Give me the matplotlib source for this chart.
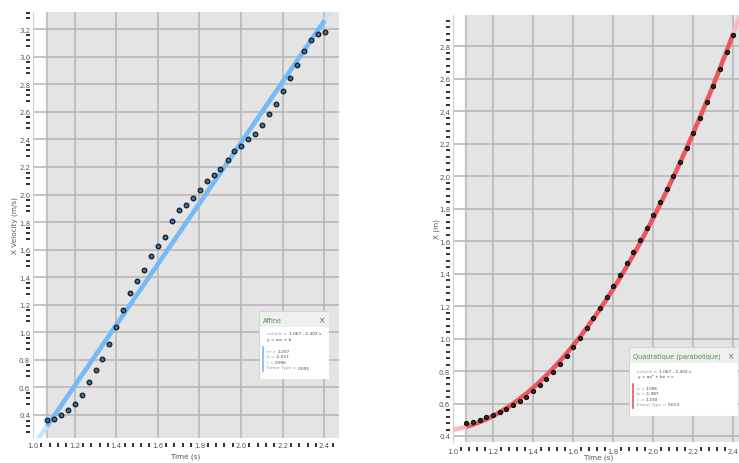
import numpy as np
import matplotlib
matplotlib.use("Agg")
import matplotlib.pyplot as plt
from matplotlib.ticker import MultipleLocator
from matplotlib.patches import Rectangle
from matplotlib.transforms import ScaledTranslation

plt.rcParams['font.family'] = ['DejaVu Sans']

# temps des images (s)
temps = [1.067, 1.100, 1.134, 1.167, 1.200, 1.234, 1.267, 1.301, 1.334, 1.367,
         1.401, 1.434, 1.467, 1.501, 1.534, 1.568, 1.601, 1.634, 1.668, 1.701,
         1.734, 1.768, 1.801, 1.835, 1.868, 1.901, 1.935, 1.968, 2.001, 2.035,
         2.068, 2.102, 2.135, 2.168, 2.202, 2.235, 2.268, 2.302, 2.335, 2.369,
         2.402]

# vitesse selon x (m/s)
vitesse = [0.366, 0.373, 0.400, 0.434, 0.478, 0.543, 0.637, 0.726, 0.808, 0.917,
           1.038, 1.163, 1.286, 1.373, 1.451, 1.557, 1.627, 1.695, 1.811, 1.891,
           1.924, 1.978, 2.033, 2.096, 2.139, 2.185, 2.253, 2.313, 2.352, 2.400,
           2.443, 2.504, 2.586, 2.659, 2.750, 2.847, 2.943, 3.045, 3.125, 3.163,
           3.180]

# position selon x (m)
position = [0.478, 0.488, 0.500, 0.515, 0.531, 0.548, 0.564, 0.591, 0.614, 0.642,
            0.675, 0.712, 0.751, 0.796, 0.844, 0.893, 0.950, 1.004, 1.064, 1.125,
            1.189, 1.255, 1.322, 1.392, 1.464, 1.534, 1.610, 1.683, 1.764, 1.844,
            1.924, 2.004, 2.090, 2.175, 2.267, 2.359, 2.456, 2.555, 2.659, 2.764,
            2.872]

# coefficients des modèles
affine = {'m': 2.207, 'b': -2.037, 'r': 0.996, 'err': 0.093}
quad = {'a': 1.096, 'b': -1.987, 'c': 1.330, 'err': 0.013}

W, H = 739, 464
fig = plt.figure(figsize=(W / 100, H / 100), dpi=100)


def px_axes(x0, y0, x1, y1):
    # axes placé en pixels (origine en haut à gauche)
    return fig.add_axes([x0 / W, 1 - y1 / H, (x1 - x0) / W, (y1 - y0) / H])


GRID = '#b4b4b4'
TXT = '#555555'


def on_major(v):
    return abs(v / 0.2 - round(v / 0.2)) < 1e-6


def minor_marks(ax, xlim, ylim, skip_above_label):
    # petits traits entre les graduations, dans la colonne des étiquettes
    step = 0.04
    xs = np.arange(np.ceil(xlim[0] / step) * step, xlim[1], step)
    ys = np.arange(np.ceil(ylim[0] / step) * step, ylim[1], step)
    xs = [v for v in xs if not on_major(v)]
    ys = [v for v in ys if not on_major(v)
          and not (skip_above_label and on_major(v - step))]
    ty = ax.get_yaxis_transform() + ScaledTranslation(-0.055, 0, fig.dpi_scale_trans)
    tx = ax.get_xaxis_transform() + ScaledTranslation(0, -0.065, fig.dpi_scale_trans)
    ax.plot(np.zeros(len(ys)), ys, ls='none', marker='_', ms=3.2, mew=1.3,
            color='#222222', transform=ty, clip_on=False)
    ax.plot(xs, np.zeros(len(xs)), ls='none', marker='|', ms=3.2, mew=1.3,
            color='#222222', transform=tx, clip_on=False)


def style_axes(ax, xlim, ylim, xlabel, ylabel, xlab_pos, ylab_pos, xpad, skip):
    ax.set_xlim(*xlim)
    ax.set_ylim(*ylim)
    ax.set_facecolor('white')
    # zone des données en gris
    ax.axvspan(temps[0], xlim[1], color='#e4e4e4', zorder=0, lw=0)
    ax.axvline(temps[0], color='#c4c4c4', lw=1.6, zorder=1)
    ax.xaxis.set_major_locator(MultipleLocator(0.2))
    ax.yaxis.set_major_locator(MultipleLocator(0.2))
    ax.grid(True, which='major', color=GRID, lw=1.1, zorder=1)
    ax.tick_params(which='major', length=0, labelsize=5, labelcolor=TXT)
    ax.tick_params(axis='x', which='major', pad=xpad)
    ax.tick_params(axis='y', which='major', pad=2)
    ax.xaxis.set_major_formatter(lambda v, p: f'{v:.1f}')
    ax.yaxis.set_major_formatter(lambda v, p: f'{v:.1f}')
    for s in ['top', 'right', 'bottom']:
        ax.spines[s].set_visible(False)
    ax.spines['left'].set_color('#cfcfcf')
    ax.set_xlabel(xlabel, fontsize=5.2, color=TXT)
    ax.set_ylabel(ylabel, fontsize=5.2, color=TXT)
    ax.xaxis.set_label_coords(*xlab_pos)
    ax.yaxis.set_label_coords(*ylab_pos)
    minor_marks(ax, xlim, ylim, skip)


def fit_line(ax, f, xlim, color, light):
    t = np.asarray(temps)
    x_in = np.linspace(t[0], t[-1], 300)
    x_lo = np.linspace(xlim[0], t[0], 30)
    x_hi = np.linspace(t[-1], xlim[1] + 0.1, 30)
    for xs, c in [(x_lo, light), (x_hi, light), (x_in, color)]:
        ax.plot(xs, f(xs), color=c, lw=3.3, solid_capstyle='butt', zorder=3)


def info_box(x0, y0, w, h, title, bar_color, lines):
    box = px_axes(x0, y0, x0 + w, y0 + h)
    box.set_xlim(0, w)
    box.set_ylim(h, 0)
    box.axis('off')
    box.add_patch(Rectangle((0, 0), w, h, facecolor='white', edgecolor='#d4d4d4', lw=0.8))
    box.add_patch(Rectangle((0.5, 0.5), w - 1, 15, facecolor='#efefef', lw=0))
    box.text(4, 9, title, color='#3f9a3a', fontsize=4.7, va='center')
    box.text(w - 7, 9, '×', color='#666666', fontsize=5.5, va='center', ha='center')
    for y, label, value in lines:
        t = box.text(8, y, label, color='#9a9a9a', fontsize=3.1, va='center')
        if value:
            box.annotate(value, xy=(1, 0.5), xycoords=t, va='center',
                         color='#444444', fontsize=3.1)
    return box


# --- vitesse en fonction du temps, modèle affine ---
xl1, yl1 = (1.0, 2.471), (0.233, 3.325)
ax1 = px_axes(33, 13, 339, 439)
style_axes(ax1, xl1, yl1, 'Time (s)', 'X Velocity (m/s)',
           (0.5, -0.035), (-0.05, 0.5), 3, True)
fit_line(ax1, lambda x: affine['m'] * x + affine['b'], xl1, '#76b9f5', '#c8e4fb')
ax1.scatter(temps, vitesse, s=11, c='#3474ad', edgecolors='#1a1a1a', lw=0.9, zorder=4)

b1 = info_box(259, 312, 70, 68, 'Affine', '#76b9f5', [
    (22, 'échelle x: ', '1.067 - 2.402 s'),
    (40, 'm = ', f"{affine['m']:.3f}"),
    (45.5, 'b = ', f"{affine['b']:.3f}"),
    (51, 'r = ', f"{affine['r']:.3f}"),
    (56.5, 'Erreur Type = ', f"{affine['err']:.3f}"),
])
b1.text(8, 28, 'y = mx + b', color='#444444', fontsize=3.1, va='center')
b1.plot([4, 4], [36, 60], color='#76b9f5', lw=1.2)

# --- position en fonction du temps, modèle quadratique ---
xl2, yl2 = (1.0, 2.45), (0.363, 2.994)
ax2 = px_axes(453, 16, 743, 443)
style_axes(ax2, xl2, yl2, 'Time (s)', 'X (m)',
           (0.503, -0.028), (-0.045, 0.5), 4, False)
fit_line(ax2, lambda x: quad['a'] * x ** 2 + quad['b'] * x + quad['c'], xl2,
         '#f0555d', '#f9b9bd')
ax2.scatter(temps, position, s=9, c='#2a2a2a', edgecolors='#111111', lw=0.8, zorder=4)

b2 = info_box(629, 348, 109, 69, 'Quadratique (parabolique)', '#f0555d', [
    (24, 'échelle x: ', '1.067 - 2.402 s'),
    (41, 'a = ', f"{quad['a']:.3f}"),
    (46.5, 'b = ', f"{quad['b']:.3f}"),
    (52, 'c = ', f"{quad['c']:.3f}"),
    (57.5, 'Erreur Type = ', f"{quad['err']:.3f}"),
])
b2.text(9, 29.5, 'y = ax² + bx + c', color='#444444', fontsize=3.1, va='center')
b2.plot([4, 4], [37, 61], color='#f0555d', lw=1.2)

fig.savefig('out.png', dpi=100)
